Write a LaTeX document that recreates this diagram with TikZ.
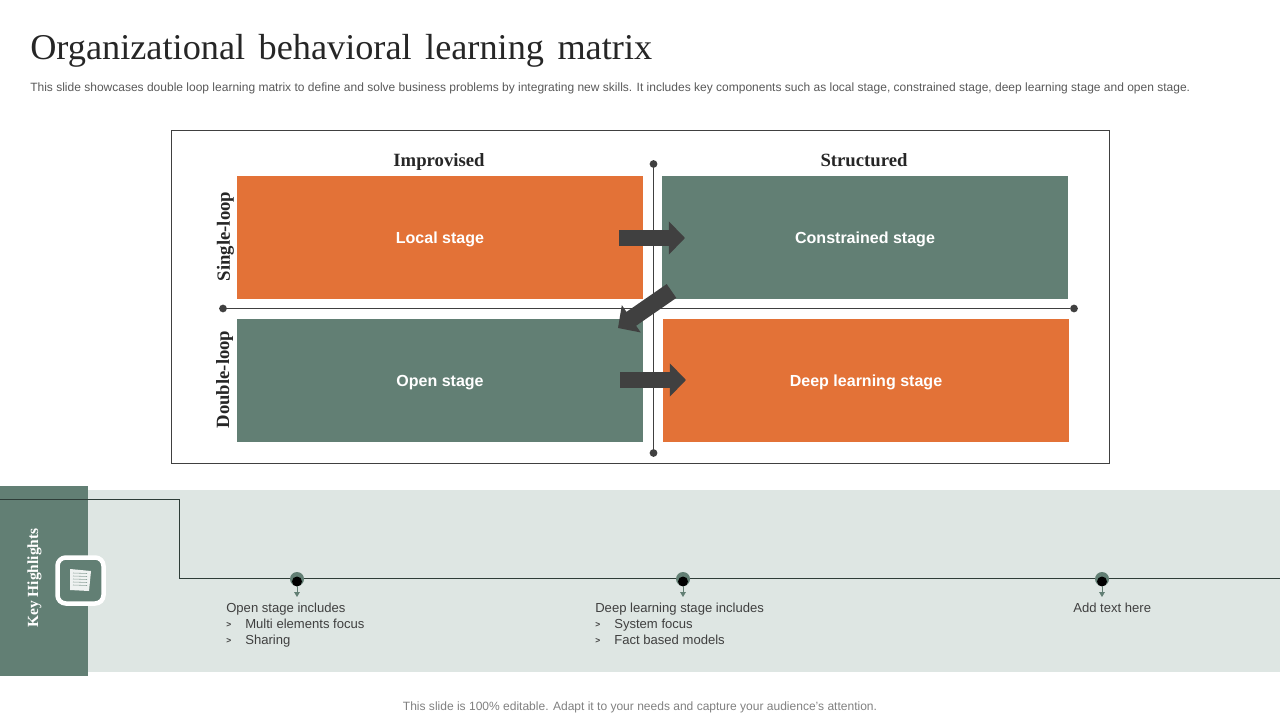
\documentclass[tikz,border=0pt]{standalone}
\usepackage{fontspec}
\setmainfont{Liberation Sans}
\newfontfamily\serifface{Liberation Serif}
\usetikzlibrary{arrows.meta}
\definecolor{sagegreen}{HTML}{627F74}
\definecolor{burntorange}{HTML}{E37237}
\definecolor{paleband}{HTML}{DEE6E3}
\definecolor{darkink}{HTML}{404040}
\definecolor{greytext}{HTML}{595959}
\definecolor{wirecolor}{HTML}{2E3D38}
\tikzset{
  stagebox/.style={minimum width=10.15cm,minimum height=3.075cm,inner sep=0,text=white,
    text height=11pt,text depth=2.8pt,font=\fontsize{11.4}{14}\selectfont\bfseries},
  axislabel/.style={text=black!85,font=\serifface\fontsize{13.3}{16}\selectfont\bfseries},
  bodytext/.style={anchor=base west,inner sep=0,text=darkink,font=\fontsize{9.3}{11}\selectfont},
  fatarrow/.style={draw=darkink,line width=12pt,-{Triangle[length=11.5pt,width=23pt]}},
  axisline/.style={draw=darkink,line width=.8pt},
  axisdot/.style={circle,fill=darkink,minimum size=5.5pt,inner sep=0},
}
\begin{document}
\begin{tikzpicture}[x=.025cm,y=-.025cm]
  \useasboundingbox (0,0) rectangle (1280,720);
  \node[anchor=base west,inner sep=0,text=black!85,font=\serifface\fontsize{25.8}{30}\selectfont] (title) at (30,59.5) {\spaceskip=.37em\relax Organizational behavioral learning matrix};
  \node[anchor=west,inner sep=0,text=greytext,font=\fontsize{8.54}{10}\selectfont] (subtitle) at (30,88) {This slide showcases double loop learning matrix to define and solve business problems by integrating new skills. It includes key components such as local stage, constrained stage, deep learning stage and open stage.};
  \draw[darkink,line width=.6pt] (171.5,130.5) rectangle (1109.5,463.5);
  % matrix
  \node[stagebox,fill=burntorange] (local) at (440,237.5) {Local stage};
  \node[stagebox,fill=sagegreen] (constrained) at (865,237.5) {Constrained stage};
  \node[stagebox,fill=sagegreen] (open) at (440,380.5) {Open stage};
  \node[stagebox,fill=burntorange] (deep) at (866,380.5) {Deep learning stage};
  \node[axislabel] (improvised) at (439,162) {Improvised};
  \node[axislabel] (structured) at (864,160) {Structured};
  \node[axislabel,rotate=90] (singleloop) at (225.5,236.5) {Single-loop};
  \node[axislabel,rotate=90] (doubleloop) at (224.5,379.5) {Double-loop};
  % axes
  \node[axisdot] (top) at (653.5,164) {};
  \node[axisdot] (bottom) at (653.5,453) {};
  \node[axisdot] (left) at (223,308.5) {};
  \node[axisdot] (right) at (1074,308.5) {};
  \draw[axisline] (top) -- (bottom);
  \draw[axisline] (left) -- (right);
  % arrows
  \coordinate (a1) at (619,238);
  \coordinate (a2) at (685,238);
  \coordinate (b1) at (671.5,291);
  \coordinate (b2) at (618,328);
  \coordinate (c1) at (620,380);
  \coordinate (c2) at (686,380);
  \draw[fatarrow] (a1) -- (a2);
  \draw[fatarrow] (b1) -- (b2);
  \draw[fatarrow] (c1) -- (c2);
  % highlights
  \fill[paleband] (88,490) rectangle (1280,672);
  \fill[sagegreen] (0,486) rectangle (88,676);
  \node[rotate=90,text=white,font=\serifface\fontsize{11}{12}\selectfont\bfseries] (key) at (34.5,578) {Key Highlights};
  \coordinate (w0) at (0,499.5);
  \coordinate (w1) at (179.5,499.5);
  \coordinate (w2) at (179.5,578.5);
  \coordinate (w3) at (1280,578.5);
  \draw[wirecolor,line width=.7pt] (w0) -- (w1) -- (w2) -- (w3);
  \draw[white,line width=3.2pt,fill=sagegreen,rounded corners=6pt] (57.5,557.5) rectangle (103.5,603.5);
  \fill[white,opacity=.9] (70,569) -- (91,571) -- (89,591) -- (70,590) -- cycle;
  \foreach \y in {573,576,579,582,585}
    \draw[sagegreen!70,line width=.4pt] (73,\y) -- (87,\y+.5);
  \foreach \x in {297,683,1102}{
    \fill[sagegreen] (\x,579) circle (7);
    \fill[black] (\x,581.5) circle (5);
    \draw[sagegreen,line width=.6pt,-{Triangle[length=3.5pt,width=4pt]}] (\x,586) -- (\x,597);
  }
  \node[bodytext] (opentext) at (226,612) {Open stage includes};
  \node[bodytext] (openmark1) at (226,627.5) {\fontsize{6}{8}\selectfont\bfseries >};
  \node[bodytext] (openitem1) at (245,628) {Multi elements focus};
  \node[bodytext] (openmark2) at (226,643.5) {\fontsize{6}{8}\selectfont\bfseries >};
  \node[bodytext] (openitem2) at (245,644) {Sharing};
  \node[bodytext] (deeptext) at (595,612) {Deep learning stage includes};
  \node[bodytext] (deepmark1) at (595,627.5) {\fontsize{6}{8}\selectfont\bfseries >};
  \node[bodytext] (deepitem1) at (614,628) {System focus};
  \node[bodytext] (deepmark2) at (595,643.5) {\fontsize{6}{8}\selectfont\bfseries >};
  \node[bodytext] (deepitem2) at (614,644) {Fact based models};
  \node[bodytext] (addtext) at (1073,612) {Add text here};
  \node[inner sep=0,text=black!50,font=\fontsize{8.55}{10}\selectfont] (footer) at (640,707.5) {This slide is 100\% editable. Adapt it to your needs and capture your audience's attention.};
\end{tikzpicture}
\end{document}
